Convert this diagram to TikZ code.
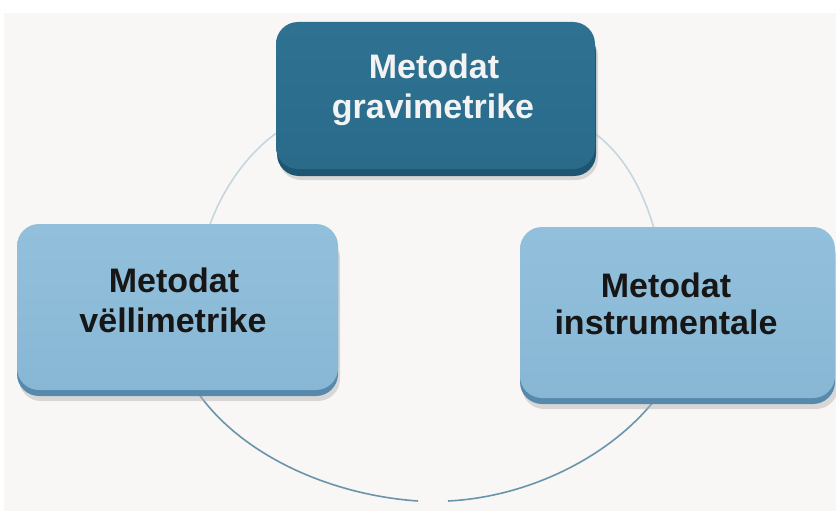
\documentclass[tikz,border=0pt]{standalone}
\usepackage{fontspec}
\setmainfont{Liberation Sans}
\definecolor{bgcol}{HTML}{F8F7F5}
\definecolor{darkface}{HTML}{2E7191}
\definecolor{darkfaceB}{HTML}{2A6B8A}
\definecolor{darkbevel}{HTML}{1D5572}
\definecolor{lightface}{HTML}{92C0DC}
\definecolor{lightfaceB}{HTML}{88B7D5}
\definecolor{lightbevel}{HTML}{5689AB}
\definecolor{arcup}{HTML}{C6D6DF}
\definecolor{arcdown}{HTML}{6A94AB}
\definecolor{txtdark}{HTML}{161616}
\definecolor{txtlight}{HTML}{F3F3F3}
\tikzset{
  boxface/.style={rectangle, rounded corners=22pt, inner sep=0pt},
  darkbox/.style={boxface, top color=darkface, bottom color=darkfaceB},
  lightbox/.style={boxface, top color=lightface, bottom color=lightfaceB},
  bevelbox/.style={rounded corners=22pt},
  shadowbox/.style={rounded corners=22pt, fill=gray!60, opacity=0.45},
  linetext/.style={anchor=base, inner sep=0pt, font=\bfseries\fontsize{34}{40}\selectfont},
  uparc/.style={draw=arcup, line width=1.6pt},
  downarc/.style={draw=arcdown, line width=1.6pt},
}
\begin{document}
\begin{tikzpicture}[x=1pt,y=-1pt]
\useasboundingbox (0,0) rectangle (836,511);
\fill[white] (0,0) rectangle (836,511);
\fill[bgcol] (4,13) rectangle (836,511);

% connector end points
\coordinate (a1) at (281,130);
\coordinate (a2) at (208,230);
\coordinate (b1) at (590,130);
\coordinate (b2) at (655,232);
\coordinate (c1) at (196,390);
\coordinate (c2) at (418,501);
\coordinate (d1) at (448,501);
\coordinate (d2) at (660,393);

% connectors (behind boxes)
\draw[uparc] (a1) .. controls (250,150) and (222,188) .. (a2);
\draw[uparc] (b1) .. controls (620,150) and (642,185) .. (b2);
\draw[downarc] (c1) .. controls (240,455) and (330,495) .. (c2);
\draw[downarc] (d1) .. controls (530,497) and (615,455) .. (d2);

% top box
\fill[shadowbox] (279,34) rectangle (598,180);
\fill[bevelbox, darkbevel] (277,30) rectangle (596,176);
\node[darkbox, minimum width=319pt, minimum height=147pt] (top) at (435.5,95.5) {};
\node[linetext, text=txtlight] (topA) at (434,78) {Metodat};
\node[linetext, text=txtlight] (topB) at (433,118) {gravimetrike};

% left box
\fill[shadowbox] (19,236) rectangle (340,401);
\fill[bevelbox, lightbevel] (17,232) rectangle (338,396);
\node[lightbox, minimum width=321pt, minimum height=166pt] (left) at (177.5,307) {};
\node[linetext, text=txtdark] (leftA) at (174,292) {Metodat};
\node[linetext, text=txtdark] (leftB) at (173,332) {vëllimetrike};

% right box
\fill[shadowbox] (522,240) rectangle (838,409);
\fill[bevelbox, lightbevel] (520,236) rectangle (835,404);
\node[lightbox, minimum width=315pt, minimum height=171pt] (right) at (677.5,312.5) {};
\node[linetext, text=txtdark] (rightA) at (666,297) {Metodat};
\node[linetext, text=txtdark] (rightB) at (666,334) {instrumentale};
\end{tikzpicture}
\end{document}
